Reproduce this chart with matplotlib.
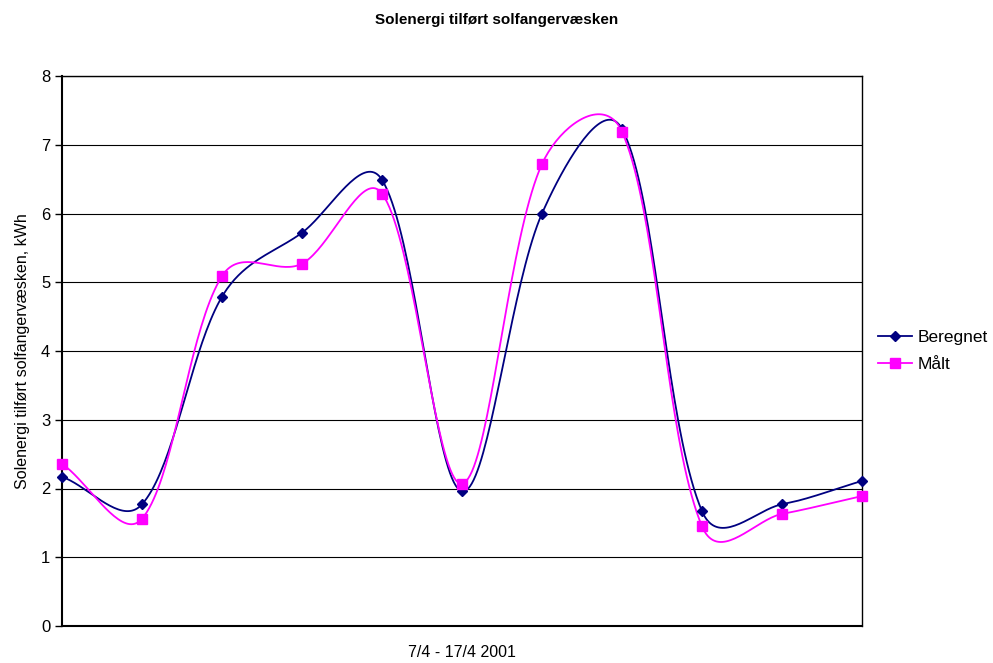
import numpy as np
import matplotlib
matplotlib.use("Agg")
import matplotlib.pyplot as plt

plt.rcParams['font.family'] = ['Liberation Sans', 'DejaVu Sans']

days = list(range(11))
beregnet = [2.17, 1.77, 4.79, 5.72, 6.49, 1.96, 6.00, 7.23, 1.67, 1.77, 2.11]
maalt = [2.36, 1.56, 5.09, 5.27, 6.29, 2.07, 6.72, 7.19, 1.45, 1.63, 1.89]

# pixel scale of one x step and one y unit, used for the smoothing weights
SX, SY = 80.0, 68.75


def smooth(x, y, n=40):
    # Excel-like smoothing: Bezier segments, tangents weighted by segment lengths
    P = np.column_stack([np.asarray(x, float) * SX, np.asarray(y, float) * SY])
    m = len(P)
    d = np.sqrt(np.hypot(*np.diff(P, axis=0).T))
    tan_out, tan_in = [], []
    for i in range(m):
        a = P[max(i - 1, 0)]
        b = P[min(i + 1, m - 1)]
        dl = d[i - 1] if i > 0 else 0.0
        dr = d[i] if i < m - 1 else 0.0
        tot = dl + dr
        v = b - a
        tan_out.append(v * (dr / tot) / 3 if tot else v * 0)
        tan_in.append(v * (dl / tot) / 3 if tot else v * 0)
    t = np.linspace(0, 1, n)[:, None]
    pts = []
    for i in range(m - 1):
        p0, p3 = P[i], P[i + 1]
        c1 = p0 + tan_out[i]
        c2 = p3 - tan_in[i + 1]
        b = (1 - t) ** 3 * p0 + 3 * (1 - t) ** 2 * t * c1 + 3 * (1 - t) * t ** 2 * c2 + t ** 3 * p3
        pts.append(b)
    pts = np.vstack(pts)
    return pts[:, 0] / SX, pts[:, 1] / SY


fig = plt.figure(figsize=(9.93, 6.63), dpi=100)
ax = fig.add_axes([62 / 993, 37 / 663, 800 / 993, 550 / 663])

for vals, col, mk, ms, lab in [(beregnet, '#000080', 'D', 5, 'Beregnet'),
                               (maalt, '#FF00FF', 's', 7, 'Målt')]:
    sx, sy = smooth(days, vals)
    ax.plot(sx, sy, color=col, lw=1.3, zorder=3)
    ax.plot(days, vals, linestyle='none', marker=mk, color=col, ms=ms, zorder=4, clip_on=False)
    ax.plot([], [], color=col, marker=mk, ms=ms, lw=1.3, label=lab)

ax.set_xlim(0, 10)
ax.set_ylim(0, 8)
ax.set_yticks(range(9))
ax.set_xticks([])
ax.grid(axis='y', color='black', lw=0.8)
ax.set_axisbelow(True)
for s in ax.spines.values():
    s.set_color('black')
    s.set_linewidth(1)
ax.spines['left'].set_linewidth(1.5)
ax.spines['bottom'].set_linewidth(1.5)
ax.tick_params(axis='y', labelsize=12, length=5, direction='out', width=1)

ax.set_ylabel('Solenergi tilført solfangervæsken, kWh', fontsize=11.5, labelpad=8)
ax.set_xlabel('7/4 - 17/4 2001', fontsize=11.5, labelpad=14)
fig.text(0.5, 0.97, 'Solenergi tilført solfangervæsken', ha='center', va='center',
         fontsize=11, fontweight='bold')

ax.legend(loc='center left', bbox_to_anchor=(1.0, 0.5), frameon=False, fontsize=12.5,
          handlelength=2.0, handletextpad=0.3, labelspacing=0.65, borderaxespad=0.5)

fig.savefig('out.png', dpi=100)
